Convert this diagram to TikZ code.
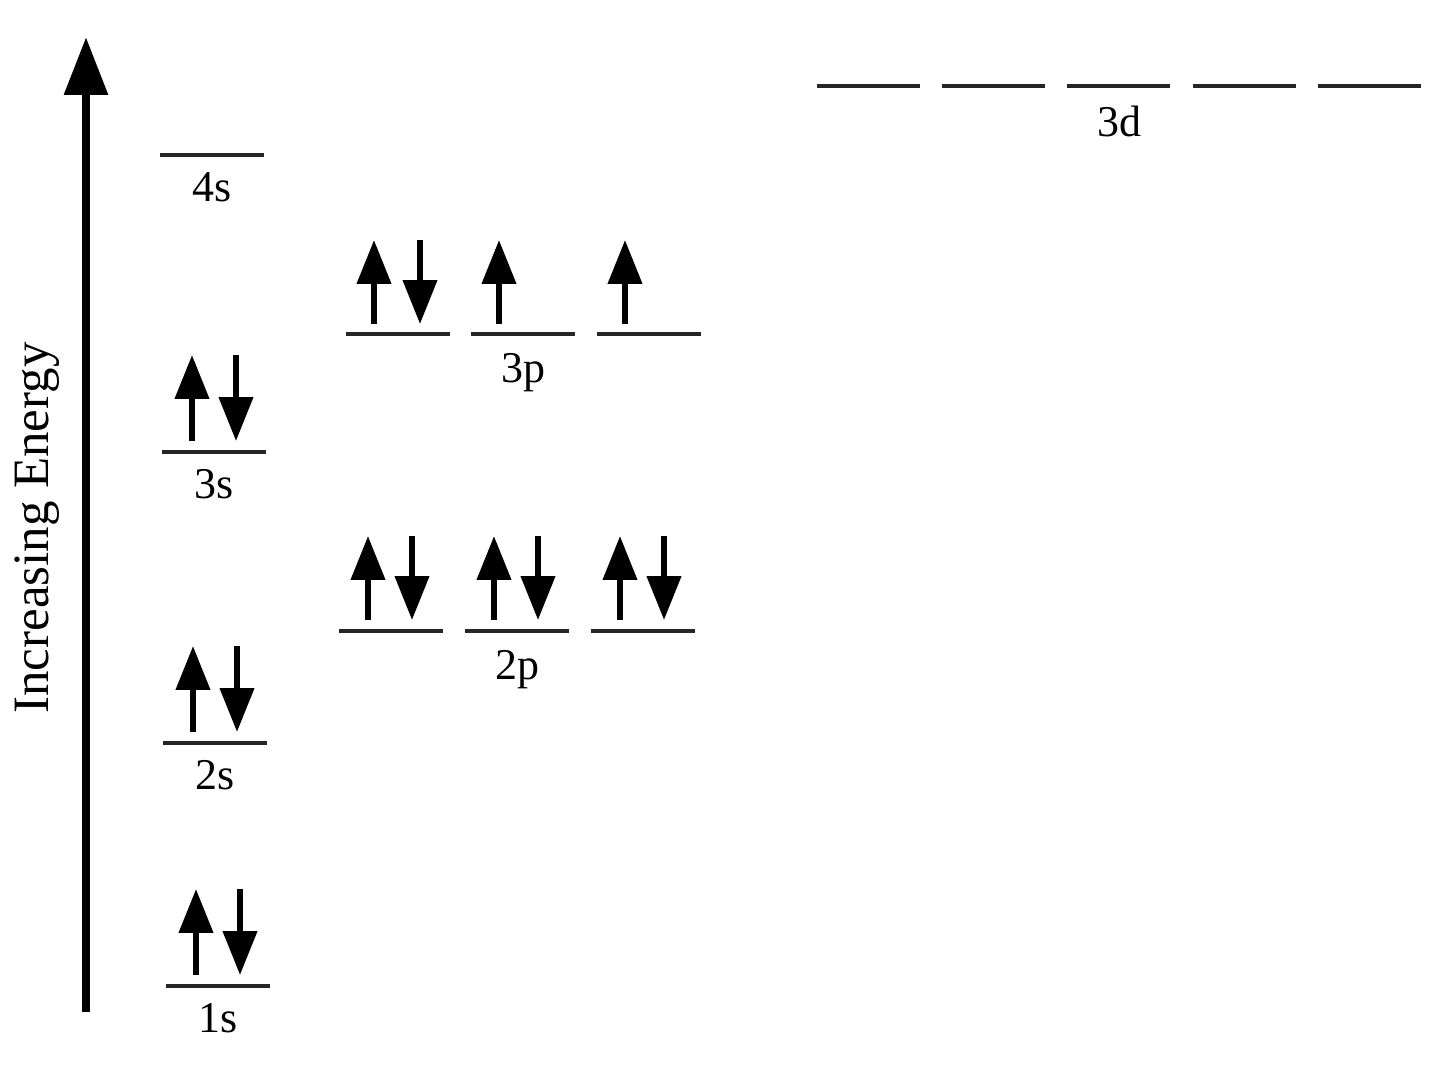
\documentclass[tikz,border=0pt]{standalone}
\usepackage{fontspec}
\setmainfont{Liberation Serif}
\usetikzlibrary{arrows.meta,calc}

\begin{document}
\begin{tikzpicture}
[x=0.02cm, y=-0.02cm,
 level/.style={line width=2.8pt, draw=black!85},
 spin/.style={line width=3.4pt, -{Triangle[width=19pt,length=25pt]}},
 orbname/.style={font=\fontsize{25}{25}\selectfont, anchor=base, inner sep=0pt}]
\useasboundingbox (0,0) rectangle (1440,1069);

\coordinate (axisbot) at (86,1012);
\coordinate (axistop) at (86,37);
\draw [line width=5pt, -{Triangle[width=24pt,length=33pt]}] (axisbot) -- (axistop);
\node [rotate=90, font=\fontsize{29}{29}\selectfont, anchor=base, inner sep=0pt] (energy) at (48,528) {Increasing Energy};

\foreach \n/\x/\y in {1/166/986, 2/163/743, 3/162/452, 4/160/155}{
	\coordinate (s\n) at (\x,\y);
	\draw [level] (s\n) -- ++(104,0);
	\node [orbname] (s\n name) at ($(s\n)+(52,46)$) {\n s};
}
\foreach \n in {1,2,3}{
	\draw [spin] ($(s\n)+(30,-11)$) -- ++(0,-86);
	\draw [spin] ($(s\n)+(74,-97)$) -- ++(0,86);
}

\foreach \i/\a/\b in {1/339/346, 2/465/471, 3/591/597}{
	\coordinate (p2\i) at (\a,631);
	\coordinate (p3\i) at (\b,334);
	\draw [level] (p2\i) -- ++(104,0);
	\draw [level] (p3\i) -- ++(104,0);
	\draw [spin] ($(p2\i)+(29,-11)$) -- ++(0,-84);
	\draw [spin] ($(p2\i)+(73,-95)$) -- ++(0,84);
	\draw [spin] ($(p3\i)+(28,-10)$) -- ++(0,-84);
}
\draw [spin] ($(p31)+(74,-94)$) -- ++(0,84);
\node [orbname] (p2name) at ($(p22)+(52,48)$) {2p};
\node [orbname] (p3name) at ($(p32)+(52,48)$) {3p};

\foreach \i/\x in {1/817, 2/942, 3/1067, 4/1193, 5/1318}{
	\coordinate (d\i) at (\x,86);
	\draw [level] (d\i) -- ++(103,0);
}
\node [orbname] (dname) at ($(d3)+(52,50)$) {3d};
\end{tikzpicture}
\end{document}
